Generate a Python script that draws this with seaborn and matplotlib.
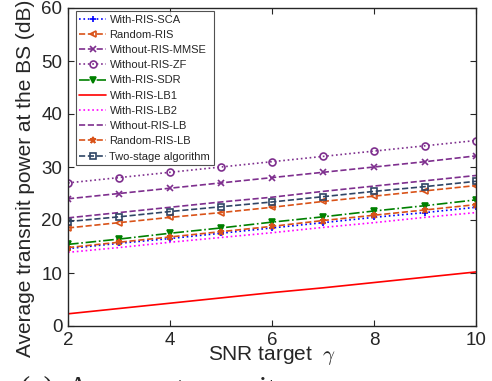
import numpy as np
import pandas as pd
import matplotlib
matplotlib.use("Agg")
import matplotlib.pyplot as plt
import seaborn as sns

# --- data ---
snr = [2, 3, 4, 5, 6, 7, 8, 9, 10]
with_ris_sca = [14.6, 15.6, 16.5, 17.5, 18.5, 19.5, 20.5, 21.4, 22.4]
random_ris = [18.5, 19.5, 20.5, 21.4, 22.4, 23.5, 24.5, 25.5, 26.5]
without_ris_mmse = [24.0, 25.0, 26.0, 27.0, 28.0, 29.0, 30.0, 31.0, 32.1]
without_ris_zf = [27.0, 28.0, 29.0, 30.0, 31.0, 32.0, 33.0, 34.0, 35.0]
with_ris_sdr = [15.4, 16.4, 17.5, 18.5, 19.6, 20.6, 21.7, 22.7, 23.8]
with_ris_lb1 = [2.3, 3.3, 4.3, 5.3, 6.3, 7.2, 8.2, 9.2, 10.2]
with_ris_lb2 = [13.9, 14.8, 15.8, 16.7, 17.6, 18.6, 19.5, 20.5, 21.4]
without_ris_lb = [20.4, 21.4, 22.4, 23.4, 24.3, 25.4, 26.4, 27.4, 28.4]
random_ris_lb = [14.8, 15.8, 16.8, 17.8, 18.8, 19.9, 20.9, 21.9, 22.9]
two_stage = [19.7, 20.6, 21.6, 22.5, 23.4, 24.4, 25.4, 26.3, 27.3]

sns.set_style("ticks")
plt.rcParams["font.family"] = ["Liberation Sans", "DejaVu Sans"]
plt.rcParams["mathtext.fontset"] = "cm"

fig = plt.figure(figsize=(4.92, 3.81), dpi=100)
ax = fig.add_axes([68 / 492, 1 - 326 / 381, 408 / 492, 318 / 381])

series = [
    ("With-RIS-SCA", with_ris_sca, "#0000FF", ":", "+"),
    ("Random-RIS", random_ris, "#D95319", "--", "<"),
    ("Without-RIS-MMSE", without_ris_mmse, "#7E2F8E", "--", "x"),
    ("Without-RIS-ZF", without_ris_zf, "#7E2F8E", ":", "o"),
    ("With-RIS-SDR", with_ris_sdr, "#008000", "-.", "v"),
    ("With-RIS-LB1", with_ris_lb1, "#FF0000", "-", None),
    ("With-RIS-LB2", with_ris_lb2, "#FF00FF", ":", None),
    ("Without-RIS-LB", without_ris_lb, "#7E2F8E", "--", None),
    ("Random-RIS-LB", random_ris_lb, "#D95319", "--", "*"),
    ("Two-stage algorithm", two_stage, "#2F4565", "--", "s"),
]

for name, vals, color, ls, mk in series:
    sns.lineplot(x=snr, y=vals, ax=ax, color=color, linestyle=ls, marker=mk,
                 markersize=5, markeredgewidth=1.2,
                 markerfacecolor="none" if mk in ("o", "<", "s") else color,
                 markeredgecolor=color, linewidth=1.2, label=name)

ax.set_xlim(2, 10)
ax.set_ylim(0, 60)
ax.set_xticks([2, 4, 6, 8, 10])
ax.set_yticks([0, 10, 20, 30, 40, 50, 60])
ax.tick_params(direction="in", top=True, right=True, labelsize=13.5, colors="#262626",
               length=4, pad=4)
for sp in ax.spines.values():
    sp.set_visible(True)
    sp.set_color("#262626")
    sp.set_linewidth(1.0)

ax.set_xlabel("SNR target  $\\gamma$", fontsize=15, labelpad=-3)
ax.set_ylabel("Average transmit power at the BS (dB)", fontsize=15)
ax.yaxis.set_label_coords(-0.082, 0.465)

leg = ax.legend(loc="upper left", bbox_to_anchor=(0.02, 0.99), fontsize=8, frameon=True,
                fancybox=False, edgecolor="#262626", handlelength=2.4, handletextpad=0.3,
                labelspacing=0.47, borderpad=0.3, borderaxespad=0)
leg.get_frame().set_linewidth(0.8)

# caption of the subfigure, cut off at the bottom
fig.text(20 / 492, 1 - 398 / 381, "(c)  Average transmit power", fontsize=22,
         family="Liberation Serif", va="baseline", ha="left")

plt.savefig("out.png", dpi=100)
